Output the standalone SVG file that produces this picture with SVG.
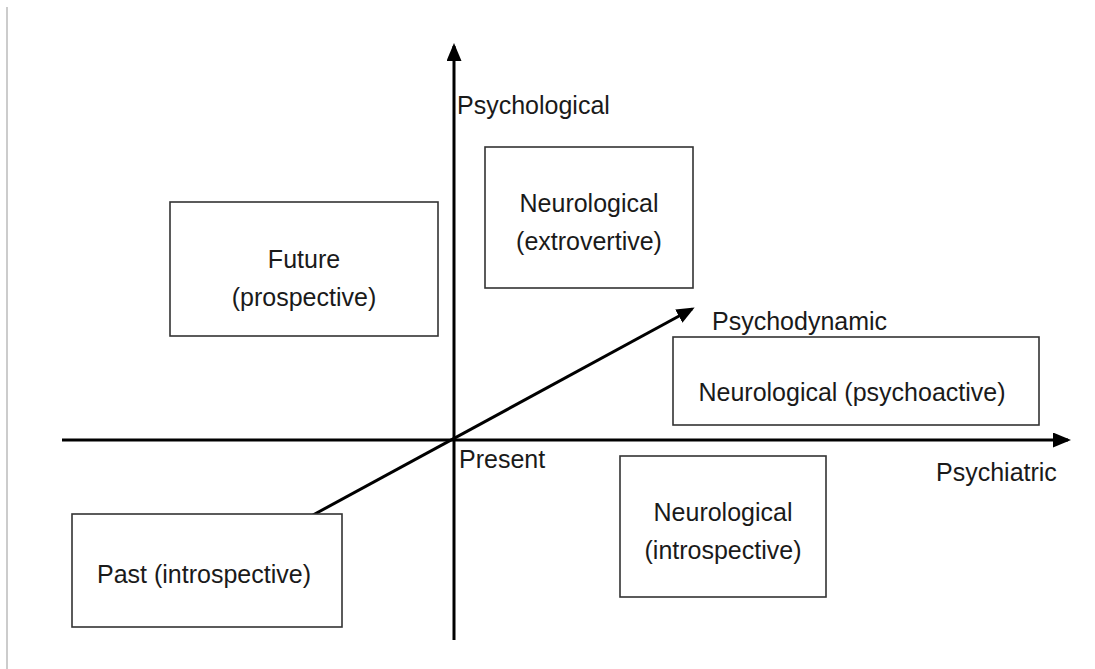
<svg xmlns="http://www.w3.org/2000/svg" width="1095" height="669" viewBox="0 0 1095 669">
<style>
.box{fill:#fff;stroke:#333;stroke-width:1.6}
.t{font-family:"Liberation Sans",Arial,sans-serif;font-size:25px;fill:#1a1a1a}
.m{text-anchor:middle}
.ax{stroke:#000;stroke-width:3;fill:none}
</style>
<defs>
<marker id="ah" markerWidth="6" markerHeight="5" refX="5" refY="2.5" orient="auto" markerUnits="strokeWidth">
<path d="M0,0 L6,2.5 L0,5 Z" fill="#000"/>
</marker>
</defs>
<rect width="1095" height="669" fill="#fff"/>
<line x1="7" y1="7" x2="7" y2="669" stroke="#ccc" stroke-width="2"/>
<g id="connectors">
<line class="ax" x1="454" y1="640" x2="454" y2="46" marker-end="url(#ah)"/>
<line class="ax" x1="62" y1="440" x2="1068" y2="440" marker-end="url(#ah)"/>
<line class="ax" x1="313" y1="515" x2="692" y2="309" marker-end="url(#ah)"/>
</g>
<g id="label-psychological"><text class="t" x="457" y="114">Psychological</text></g>
<g id="label-psychodynamic"><text class="t" x="712" y="330">Psychodynamic</text></g>
<g id="label-present"><text class="t" x="459" y="468">Present</text></g>
<g id="label-psychiatric"><text class="t" x="936" y="481">Psychiatric</text></g>
<g id="future">
<rect class="box" x="170" y="202" width="268" height="134"/>
<text class="t m" x="304" y="268">Future</text>
<text class="t m" x="304" y="306">(prospective)</text>
</g>
<g id="extrovertive">
<rect class="box" x="485" y="147" width="208" height="141"/>
<text class="t m" x="589" y="212">Neurological</text>
<text class="t m" x="589" y="250">(extrovertive)</text>
</g>
<g id="psychoactive">
<rect class="box" x="673" y="337" width="366" height="88"/>
<text class="t m" x="852" y="401">Neurological (psychoactive)</text>
</g>
<g id="introspective">
<rect class="box" x="620" y="456" width="206" height="141"/>
<text class="t m" x="723" y="521">Neurological</text>
<text class="t m" x="723" y="559">(introspective)</text>
</g>
<g id="past">
<rect class="box" x="72" y="514" width="270" height="113"/>
<text class="t m" x="204" y="583">Past (introspective)</text>
</g>
</svg>
